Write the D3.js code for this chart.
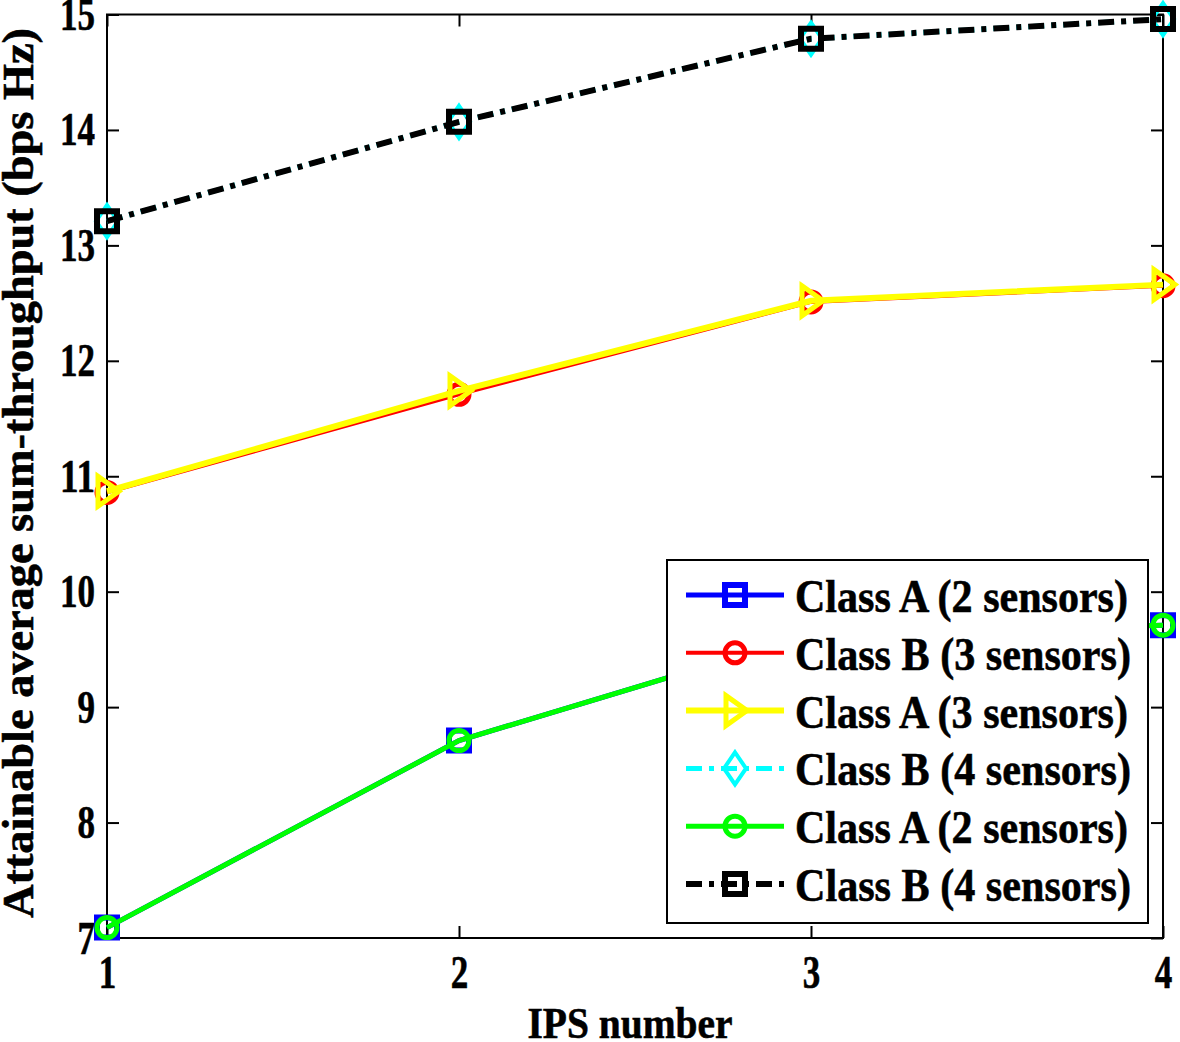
<!DOCTYPE html>
<html>
<head>
<meta charset="utf-8">
<script src="https://cdn.jsdelivr.net/npm/d3@7"></script>
<style>
  html, body { margin: 0; padding: 0; background: #fff; }
  svg { display: block; }
  text { font-family: "Liberation Serif", "Times New Roman", serif; font-weight: bold; fill: #000; stroke: #000; stroke-width: 0.6px; }
</style>
</head>
<body>
<svg id="chart" width="1180" height="1042"></svg>
<script>
// ---------- data ----------
const ipsNumbers = [1, 2, 3, 4];
const yTicks = [7, 8, 9, 10, 11, 12, 13, 14, 15];
const xLabel = "IPS number";
const yLabel = "Attainable average sum-throughput (bps Hz)";

const classA2Blue   = [7.09, 8.71, 9.63, 9.71];
const classB3Red    = [10.86, 11.71, 12.51, 12.65];
const classA3Yellow = [10.87, 11.74, 12.52, 12.66];
const classB4Cyan   = [13.21, 14.07, 14.79, 14.96];
const classA2Green  = [7.09, 8.71, 9.63, 9.71];
const classB4Black  = [13.21, 14.07, 14.79, 14.96];

const seriesNames = [
  "Class A (2 sensors)", "Class B (3 sensors)", "Class A (3 sensors)",
  "Class B (4 sensors)", "Class A (2 sensors)", "Class B (4 sensors)"
];
const seriesValues = [classA2Blue, classB3Red, classA3Yellow, classB4Cyan, classA2Green, classB4Black];
const seriesColors = ["#0000ff", "#ff0000", "#ffff00", "#00ffff", "#00ff00", "#000000"];
const seriesMarkers = ["square", "circle", "triangleRight", "diamond", "circle", "square"];
const seriesDashed = [false, false, false, true, false, true];

// ---------- layout ----------
const pLeft = 107, pRight = 1163, pTop = 14.5, pBottom = 938;
const x = d3.scaleLinear().domain([1, 4]).range([pLeft, pRight]);
const y = d3.scaleLinear().domain([7, 15]).range([pBottom, pTop]);

const svg = d3.select("#chart");

function markerPath(type) {
  switch (type) {
    case "square": return "M-10,-10H10V10H-10Z";
    case "circle": return "M10,0A10,10 0 1,1 -10,0A10,10 0 1,1 10,0Z";
    case "triangleRight": return "M-9,-15L12,0L-9,15Z";
    case "diamond": return "M0,-16L11,0L0,16L-11,0Z";
  }
}
function markerStroke(type) {
  return { square: 6, circle: 5, triangleRight: 5, diamond: 4 }[type];
}
function lineWidth(i) { return [5, 4, 6, 5, 5, 6][i]; }
const dashPattern = "16,7,5,7";

// frame
svg.append("rect")
  .attr("x", pLeft).attr("y", pTop)
  .attr("width", pRight - pLeft).attr("height", pBottom - pTop)
  .attr("fill", "none").attr("stroke", "#000").attr("stroke-width", 2);

function styleTicks(g, fontSize) {
  g.select(".domain").remove();
  g.selectAll(".tick line").attr("stroke", "#000").attr("stroke-width", 2);
  g.selectAll(".tick text")
    .attr("font-size", fontSize)
    .attr("fill", "#000")
    .attr("textLength", function () { return this.textContent.length * 17.5; })
    .attr("lengthAdjust", "spacingAndGlyphs");
}

const yAxisL = d3.axisLeft(y).tickValues(yTicks).tickFormat(d3.format("d")).tickSizeInner(-12).tickSizeOuter(0).tickPadding(12);
svg.append("g").attr("transform", `translate(${pLeft},0)`).call(yAxisL).call(g => styleTicks(g, 47));
const yAxisR = d3.axisRight(y).tickValues(yTicks).tickFormat("").tickSizeInner(-12).tickSizeOuter(0);
svg.append("g").attr("transform", `translate(${pRight},0)`).call(yAxisR).call(g => styleTicks(g, 47));

const xAxisB = d3.axisBottom(x).tickValues(ipsNumbers).tickFormat(d3.format("d")).tickSizeInner(-12).tickSizeOuter(0).tickPadding(17);
svg.append("g").attr("transform", `translate(0,${pBottom})`).call(xAxisB).call(g => styleTicks(g, 47));
const xAxisT = d3.axisTop(x).tickValues(ipsNumbers).tickFormat("").tickSizeInner(-12).tickSizeOuter(0);
svg.append("g").attr("transform", `translate(0,${pTop})`).call(xAxisT).call(g => styleTicks(g, 47));

// axis titles
svg.append("text")
  .attr("x", 630).attr("y", 1038)
  .attr("text-anchor", "middle")
  .attr("font-size", 45)
  .attr("textLength", 205).attr("lengthAdjust", "spacingAndGlyphs")
  .text(xLabel);

svg.append("text")
  .attr("transform", "translate(33,473) rotate(-90)")
  .attr("text-anchor", "middle")
  .attr("font-size", 45)
  .attr("textLength", 890).attr("lengthAdjust", "spacingAndGlyphs")
  .text(yLabel);

// series
const line = d3.line().x((d, i) => x(ipsNumbers[i])).y(d => y(d));
const plot = svg.append("g");
seriesValues.forEach((vals, i) => {
  const g = plot.append("g");
  g.append("path")
    .datum(vals)
    .attr("d", line)
    .attr("fill", "none")
    .attr("stroke", seriesColors[i])
    .attr("stroke-width", lineWidth(i))
    .attr("stroke-dasharray", seriesDashed[i] ? dashPattern : null);
  g.selectAll("path.mk")
    .data(vals)
    .join("path")
    .attr("class", "mk")
    .attr("d", markerPath(seriesMarkers[i]))
    .attr("transform", (d, j) => `translate(${x(ipsNumbers[j])},${y(d)})`)
    .attr("fill", "none")
    .attr("stroke", seriesColors[i])
    .attr("stroke-width", markerStroke(seriesMarkers[i]));
});

// legend
const lgX = 667, lgY = 560, lgW = 481, lgH = 363;
const legend = svg.append("g");
legend.append("rect")
  .attr("x", lgX).attr("y", lgY).attr("width", lgW).attr("height", lgH)
  .attr("fill", "#fff").attr("stroke", "#000").attr("stroke-width", 2);
const rowY = d3.scaleLinear().domain([0, 5]).range([595, 884]);
const legendTextLen = [333, 336, 333, 336, 333, 336];
seriesNames.forEach((name, i) => {
  const cy = rowY(i);
  const row = legend.append("g");
  row.append("line")
    .attr("x1", 686).attr("x2", 784).attr("y1", cy).attr("y2", cy)
    .attr("stroke", seriesColors[i])
    .attr("stroke-width", lineWidth(i))
    .attr("stroke-dasharray", seriesDashed[i] ? dashPattern : null);
  row.append("path")
    .attr("d", markerPath(seriesMarkers[i]))
    .attr("transform", `translate(735,${cy})`)
    .attr("fill", "none")
    .attr("stroke", seriesColors[i])
    .attr("stroke-width", markerStroke(seriesMarkers[i]));
  row.append("text")
    .attr("x", 795).attr("y", cy + 17)
    .attr("font-size", 47)
    .attr("textLength", legendTextLen[i]).attr("lengthAdjust", "spacingAndGlyphs")
    .text(name);
});
</script>
</body>
</html>
